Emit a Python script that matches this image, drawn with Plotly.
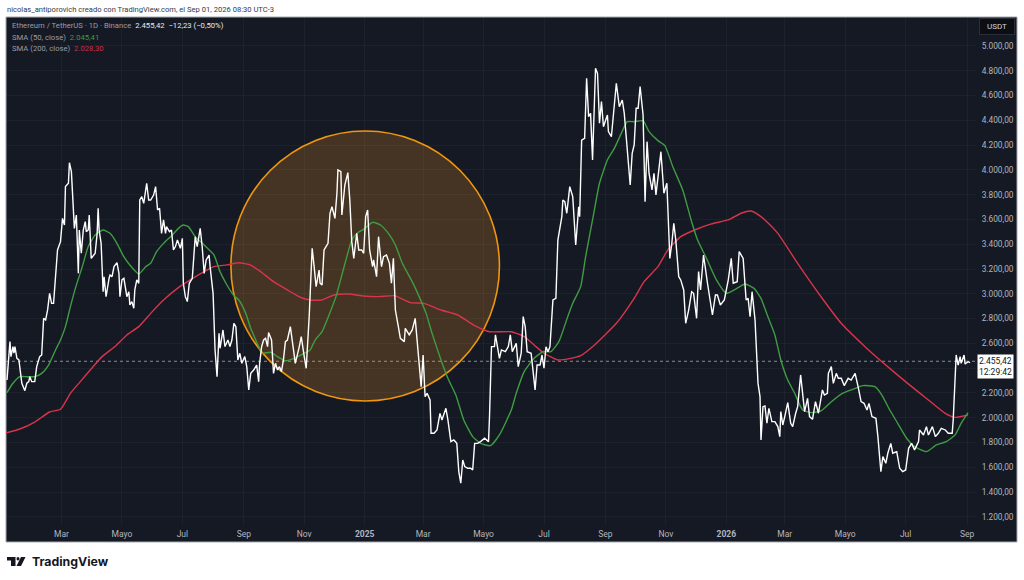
import pandas as pd
import plotly.graph_objects as go

START = pd.Timestamp("2024-01-05")

# days since START, closing price in USDT (turning points)
price_days = [
    1, 2, 4, 5, 7, 8, 9, 11, 13, 16, 18, 19, 21, 23, 24, 26, 29, 31, 34, 36, 37, 38, 40, 42, 44, 46, 48, 50, 52, 55,
    57, 59, 60, 63, 64, 66, 67, 69, 71, 73, 74, 76, 78, 80, 81, 83, 84, 86, 90, 92, 93, 94, 96, 98, 99, 101, 104, 105, 107, 109,
    112, 114, 115, 117, 119, 122, 124, 125, 127, 129, 130, 132, 134, 135, 137, 139, 142, 144, 146, 149, 151, 153, 155, 157, 159, 161, 162, 165, 167, 169,
    171, 173, 176, 178, 179, 181, 183, 185, 188, 191, 193, 196, 198, 200, 202, 205, 206, 209, 211, 213, 215, 216, 219, 221, 224, 226, 228, 230, 232, 234,
    236, 238, 241, 243, 245, 247, 250, 253, 255, 256, 258, 260, 262, 264, 265, 268, 270, 272, 274, 276, 278, 280, 282, 284, 287, 290, 292, 296, 298, 301,
    303, 306, 307, 309, 311, 313, 316, 317, 319, 321, 323, 325, 327, 329, 332, 334, 335, 338, 339, 342, 345, 347, 349, 351, 354, 356, 359, 361, 363, 365,
    367, 370, 371, 374, 376, 379, 381, 384, 387, 389, 391, 393, 396, 398, 402, 403, 407, 410, 413, 416, 419, 421, 423, 425, 428, 429, 432, 435, 438, 440,
    444, 446, 449, 452, 455, 457, 459, 461, 463, 466, 469, 471, 473, 476, 479, 483, 487, 488, 490, 493, 494, 498, 500, 504, 507, 509, 511, 515, 517, 520,
    522, 524, 526, 530, 532, 534, 536, 539, 541, 543, 545, 547, 549, 552, 555, 557, 561, 562, 564, 566, 569, 572, 575, 578, 579, 581, 584, 586, 588, 590,
    592, 595, 597, 599, 601, 603, 607, 608, 611, 616, 619, 622, 624, 627, 630, 632, 634, 636, 638, 640, 643, 645, 647, 649, 652, 654, 656, 661, 664, 667,
    670, 672, 674, 676, 679, 681, 684, 686, 689, 692, 694, 697, 699, 701, 704, 708, 710, 713, 716, 718, 721, 725, 729, 732, 734, 738, 740, 744, 747, 749,
    751, 753, 756, 758, 759, 761, 762, 764, 766, 768, 770, 773, 776, 779, 781, 782, 784, 786, 789, 792, 794, 797, 799, 802, 804, 806, 809, 811, 814, 817,
    820, 824, 826, 829, 830, 833, 835, 838, 840, 843, 846, 850, 853, 857, 860, 863, 866, 869, 871, 874, 878, 880, 883, 885, 888, 890, 893, 895, 899, 902,
    905, 908, 911, 914, 917, 921, 922, 926, 929, 931, 935, 938, 941, 944, 948, 951, 955, 956, 959, 961, 963, 964, 967, 968, 971, 973,
]
price_close = [
    2304, 2439, 2614, 2493, 2574, 2520, 2574, 2479, 2466, 2278, 2224, 2218, 2278, 2291, 2331, 2291, 2291, 2412, 2493, 2506, 2654, 2802, 2789, 2870, 3004, 2923, 2923, 3138, 3354, 3421,
    3609, 3555, 3865, 3892, 4058, 3986, 3811, 3528, 3636, 3165, 3515, 3327, 3515, 3582, 3502, 3515, 3636, 3286, 3327, 3488, 3690, 3515, 3407, 3017, 3138, 2977, 3125, 3152, 3138, 3219,
    3251, 3165, 2977, 3112, 3125, 2977, 3017, 2910, 2937, 2883, 3031, 3112, 3085, 3757, 3784, 3730, 3892, 3757, 3757, 3797, 3865, 3676, 3690, 3488, 3596, 3488, 3542, 3502, 3515, 3354,
    3381, 3434, 3367, 3448, 3085, 2977, 2937, 3085, 3125, 3461, 3381, 3528, 3381, 3165, 3273, 3313, 3219, 3004, 2547, 2331, 2681, 2560, 2708, 2574, 2627, 2574, 2627, 2762, 2735, 2466,
    2520, 2439, 2493, 2412, 2224, 2358, 2385, 2425, 2291, 2439, 2574, 2627, 2641, 2574, 2687, 2627, 2358, 2439, 2385, 2412, 2372, 2466, 2614, 2627, 2735, 2574, 2439, 2574, 2654, 2493,
    2399, 2816, 3031, 3367, 3219, 3058, 3192, 3085, 3071, 3354, 3381, 3407, 3650, 3703, 3609, 3811, 4000, 3986, 3636, 3878, 3978, 3757, 3421, 3286, 3488, 3354, 3354, 3327, 3623, 3676,
    3354, 3219, 3273, 3138, 3461, 3219, 3300, 3313, 3246, 3085, 3286, 2869, 2735, 2641, 2614, 2721, 2668, 2708, 2802, 2493, 2251, 2506, 2170, 2197, 2143, 1874, 1874, 1901, 2035, 1982,
    2076, 1982, 1807, 1820, 1793, 1565, 1471, 1659, 1605, 1592, 1592, 1578, 1793, 1793, 1807, 1834, 1807, 2009, 2574, 2574, 2668, 2479, 2547, 2533, 2574, 2668, 2533, 2600, 2412, 2520,
    2816, 2735, 2533, 2520, 2385, 2224, 2425, 2425, 2506, 2399, 2573, 2533, 2573, 2950, 2964, 3434, 3623, 3757, 3744, 3650, 3865, 3784, 3394, 3703, 3623, 4241, 4255, 4739, 4430, 4457,
    4080, 4820, 4779, 4376, 4551, 4349, 4443, 4309, 4268, 4699, 4510, 4564, 4457, 4161, 3878, 4134, 4201, 4497, 4497, 4672, 4443, 3744, 4228, 3972, 3838, 3972, 3798, 4147, 3811, 3892,
    3286, 3408, 3569, 3434, 3138, 3112, 3031, 2762, 2869, 3017, 3004, 2802, 3179, 3031, 3313, 3085, 2964, 2829, 2990, 2990, 2910, 2950, 3112, 3286, 3085, 3098, 3340, 3286, 2950, 2963,
    2815, 3017, 2789, 2385, 2277, 2170, 1820, 2089, 2095, 1955, 2076, 1968, 1968, 1928, 1847, 2049, 1941, 2009, 2121, 1955, 1928, 2036, 2089, 2345, 2170, 2049, 2156, 2009, 1987, 2130,
    2036, 2224, 2183, 2197, 2358, 2412, 2277, 2358, 2318, 2318, 2259, 2318, 2304, 2358, 2250, 2130, 2116, 2062, 2116, 2009, 1995, 1847, 1565, 1686, 1632, 1713, 1793, 1713, 1726, 1592,
    1565, 1578, 1753, 1793, 1740, 1807, 1901, 1860, 1928, 1860, 1928, 1847, 1874, 1914, 1901, 1874, 1874, 1982, 2506, 2425, 2493, 2439, 2506, 2433, 2452, 2444,
]

sma50_days = [
    1, 7, 14, 21, 29, 36, 43, 50, 55, 60, 65, 70, 77, 83, 90, 98, 105, 112, 118, 125, 134, 141, 146, 152, 159, 168, 174, 179, 184, 191,
    200, 210, 216, 223, 230, 235, 242, 247, 255, 258, 267, 274, 282, 291, 301, 307, 312, 319, 326, 333, 339, 344, 349, 355, 361, 370, 378, 387, 393, 400,
    410, 417, 424, 430, 439, 446, 454, 462, 471, 479, 489, 498, 510, 515, 523, 533, 542, 550, 558, 567, 572, 580, 585, 592, 599, 607, 614, 621, 627, 634,
    643, 649, 658, 665, 673, 683, 692, 698, 707, 717, 727, 735, 746, 755, 762, 769, 776, 782, 789, 796, 804, 813, 823, 833, 843, 853, 865, 877, 884, 892,
    900, 909, 917, 929, 939, 949, 958, 964, 971,
]
sma50_values = [
    2202, 2278, 2331, 2331, 2331, 2358, 2425, 2547, 2627, 2735, 2896, 3044, 3219, 3381, 3475, 3515, 3488, 3407, 3313, 3232, 3160, 3219, 3246, 3340, 3407, 3475, 3528, 3555, 3542, 3461,
    3394, 3313, 3179, 3071, 2985, 2950, 2842, 2721, 2574, 2520, 2528, 2493, 2460, 2479, 2520, 2547, 2627, 2695, 2829, 2977, 3152, 3300, 3434, 3493, 3520, 3577, 3555, 3475, 3394, 3246,
    3098, 2977, 2842, 2681, 2466, 2318, 2183, 1982, 1847, 1793, 1774, 1861, 2062, 2197, 2372, 2479, 2533, 2533, 2614, 2816, 2923, 3058, 3300, 3596, 3892, 4080, 4174, 4295, 4389, 4389,
    4397, 4309, 4236, 4196, 4026, 3838, 3582, 3434, 3286, 3112, 3004, 3031, 3079, 3044, 2963, 2815, 2668, 2466, 2304, 2197, 2062, 2041, 2057, 2129, 2191, 2224, 2259, 2250, 2183, 2062,
    1955, 1834, 1766, 1726, 1780, 1807, 1861, 1955, 2041,
]

sma200_days = [
    0, 14, 29, 44, 55, 65, 75, 85, 97, 110, 122, 134, 146, 159, 173, 186, 200, 210, 223, 235, 247, 257, 270, 284, 297, 307, 319, 331, 346, 361,
    376, 392, 408, 422, 439, 456, 472, 488, 510, 523, 533, 543, 557, 570, 580, 594, 616, 634, 644, 658, 668, 681, 695, 712, 729, 742, 752, 762, 766, 779,
    799, 825, 843, 867, 884, 910, 931, 948, 958, 971,
]
sma200_values = [
    1877, 1909, 1965, 2046, 2068, 2197, 2291, 2385, 2493, 2574, 2668, 2735, 2842, 2950, 3044, 3112, 3179, 3219, 3233, 3251, 3232, 3179, 3098, 3031, 2972, 2950, 2950, 2990, 2998, 2982,
    2977, 2985, 2929, 2923, 2869, 2829, 2748, 2694, 2694, 2654, 2587, 2520, 2466, 2479, 2501, 2587, 2762, 2964, 3098, 3219, 3354, 3461, 3515, 3564, 3596, 3650, 3668, 3623, 3596, 3488,
    3246, 2950, 2762, 2573, 2452, 2277, 2143, 2035, 2003, 2022,
]

last_price = 2455.42
price_ticks = list(range(1200, 5200, 200))
# 2.400,00 sits behind the last price label in the original, so only its grid line shows
price_labels = ["" if p == 2400 else f"{p:,}".replace(",", ".") + ",00" for p in price_ticks]
month_ticks = ["2024-03-01", "2024-05-01", "2024-07-01", "2024-09-01", "2024-11-01", "2025-01-01",
               "2025-03-01", "2025-05-01", "2025-07-01", "2025-09-01", "2025-11-01", "2026-01-01",
               "2026-03-01", "2026-05-01", "2026-07-01", "2026-09-01"]
month_labels = ["Mar", "Mayo", "Jul", "Sep", "Nov", "<b>2025</b>", "Mar", "Mayo", "Jul", "Sep", "Nov", "<b>2026</b>",
                "Mar", "Mayo", "Jul", "Sep"]


def to_dates(days):
    return START + pd.to_timedelta(days, unit="D")


# page pixels to paper coordinates for the frame, logo and labels
L, R, T, B = 6, 975, 17, 525


def px(x):
    return (x - L) / (R - L)


def py(y):
    return (B - y) / (B - T)


PANEL = "#151924"
AXIS_TEXT = "#b2b5be"
GRID = "rgba(255,255,255,0.035)"
FONT = "Roboto, Arial, sans-serif"

fig = go.Figure()
fig.add_trace(go.Scatter(x=to_dates(sma200_days), y=sma200_values, mode="lines", name="SMA 200",
                         line=dict(color="#d8344a", width=1.4, shape="spline", smoothing=0.5)))
fig.add_trace(go.Scatter(x=to_dates(sma50_days), y=sma50_values, mode="lines", name="SMA 50",
                         line=dict(color="#3f9c42", width=1.4, shape="spline", smoothing=0.5)))
fig.add_trace(go.Scatter(x=to_dates(price_days), y=price_close, mode="lines", name="ETHUSDT",
                         line=dict(color="#ffffff", width=1.4)))

shapes = [
    # dark panel including both axis strips
    dict(type="rect", xref="paper", yref="paper", x0=px(6), x1=px(1017), y0=py(542), y1=py(17),
         fillcolor=PANEL, line=dict(color="#a6a9b0", width=1), layer="below"),
    # highlighted circle
    dict(type="circle", xref="x", yref="y", x0="2024-08-19", x1="2025-05-17", y0=2135, y1=4314,
         fillcolor="rgba(240,150,30,0.22)", line=dict(color="#f0960f", width=1.6), layer="below"),
    # last price line
    dict(type="line", xref="paper", yref="y", x0=0, x1=1, y0=last_price, y1=last_price,
         line=dict(color="#8a8d96", width=1, dash="dot"), layer="below"),
    # TradingView logo
    dict(type="path", xref="paper", yref="paper", line=dict(width=0), fillcolor="#131722",
         path=f"M{px(7)},{py(557)} L{px(15.5)},{py(557)} L{px(15.5)},{py(566)} L{px(11)},{py(566)} "
              f"L{px(11)},{py(560.5)} L{px(7)},{py(560.5)} Z"),
    dict(type="circle", xref="paper", yref="paper", line=dict(width=0), fillcolor="#131722",
         x0=px(16.5), x1=px(19.5), y0=py(560.5), y1=py(557)),
    dict(type="path", xref="paper", yref="paper", line=dict(width=0), fillcolor="#131722",
         path=f"M{px(21)},{py(557)} L{px(25.5)},{py(557)} L{px(21)},{py(566)} L{px(16.5)},{py(566)} Z"),
]

annotations = [
    dict(x=px(5), y=py(9), text="nicolas_antiporovich creado con TradingView.com, el Sep 01, 2026 08:30 UTC-3",
         font=dict(size=7.6, color="#363a45")),
    dict(x=px(10), y=py(26),
         text="Ethereum / TetherUS · 1D · Binance  <span style='color:#e8e9ec'>2.455,42  −12,23 (−0,50%)</span>",
         font=dict(size=7.7, color="#9a9da6")),
    dict(x=px(10), y=py(37), text="SMA (50, close)  <span style='color:#3f9c42'>2.045,41</span>",
         font=dict(size=7.7, color="#9a9da6")),
    dict(x=px(10), y=py(48), text="SMA (200, close)  <span style='color:#c9304a'>2.028,30</span>",
         font=dict(size=7.7, color="#9a9da6")),
    dict(x=px(979), y=py(27), text="USDT", font=dict(size=8, color="#d1d4dc"), bgcolor="#0c0e14",
         bordercolor="#2a2e39", borderwidth=1, borderpad=0, width=34, height=15, align="center"),
    dict(x=px(977), y=py(366.5), text="2.455,42<br>12:29:42", font=dict(size=8.5, color="#131722"),
         bgcolor="#ffffff", borderpad=1),
    dict(x=px(30), y=py(561), text="<b>TradingView</b>", font=dict(size=12.3, color="#131722", family="Inter, sans-serif")),
]
for a in annotations:
    a.update(xref="paper", yref="paper", xanchor="left", yanchor="middle", showarrow=False)
    a.setdefault("align", "left")

fig.update_layout(
    width=1024,
    height=580,
    margin=dict(l=L, r=1024 - R, t=T, b=580 - B),
    paper_bgcolor="#ffffff",
    plot_bgcolor=PANEL,
    showlegend=False,
    font=dict(family=FONT, size=8.5, color=AXIS_TEXT),
    shapes=shapes,
    annotations=annotations,
    xaxis=dict(
        type="date",
        range=["2024-01-05", "2026-09-09"],
        tickmode="array",
        tickvals=month_ticks,
        ticktext=month_labels,
        ticks="outside",
        ticklen=1,
        tickcolor="rgba(0,0,0,0)",
        tickfont=dict(size=8.5, color=AXIS_TEXT),
        gridcolor=GRID,
        gridwidth=1,
        zeroline=False,
        showline=False,
    ),
    yaxis=dict(
        side="right",
        range=[1134, 5234],
        tickmode="array",
        tickvals=price_ticks,
        ticktext=price_labels,
        ticks="outside",
        ticklen=4,
        tickcolor="rgba(0,0,0,0)",
        tickfont=dict(size=8.3, color=AXIS_TEXT),
        gridcolor=GRID,
        gridwidth=1,
        zeroline=False,
        showline=False,
    ),
)

# the page's default body margin would push the fixed-size figure out of the window
fig.write_html("out.html", config={"displayModeBar": False}, post_script="document.body.style.margin='0';")
